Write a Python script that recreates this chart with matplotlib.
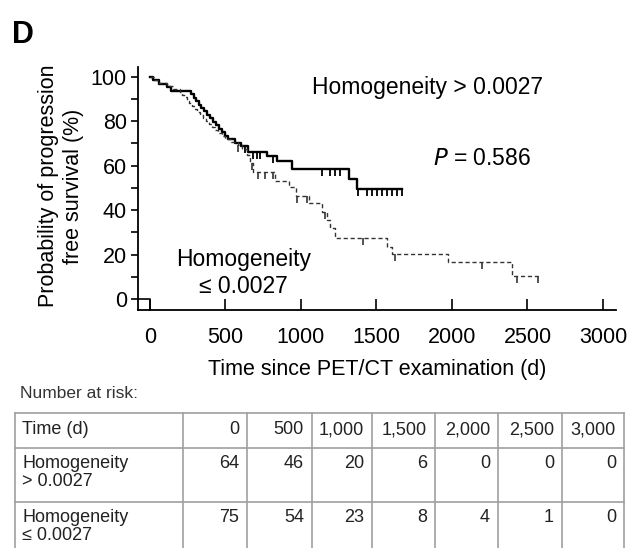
import numpy as np
import matplotlib
matplotlib.use("Agg")
import matplotlib.pyplot as plt
from matplotlib.ticker import MultipleLocator

plt.rcParams["font.family"] = ["Liberation Sans", "DejaVu Sans"]

# Kaplan-Meier steps (time in days, survival in %)
hi_times = [0, 20, 60, 110, 140, 270, 290, 305, 325, 340, 360, 380, 400, 420,
            440, 460, 480, 500, 515, 560, 600, 650, 775, 840, 940, 1320, 1370]
hi_surv = [100, 98.4, 96.9, 95.3, 93.8, 92.2, 90.6, 89.0, 87.5, 85.9, 84.4,
           82.8, 81.3, 79.7, 78.1, 76.6, 75.0, 73.4, 71.9, 70.3, 68.8, 66.3,
           64.3, 62.0, 58.3, 54.0, 49.5]
hi_censor = [630, 682, 706, 728, 815, 938, 1137, 1192, 1225, 1258, 1378, 1435,
             1468, 1501, 1535, 1568, 1601, 1634, 1667]

lo_times = [0, 25, 60, 110, 150, 200, 215, 230, 245, 260, 280, 295, 310, 330,
            350, 370, 390, 410, 430, 450, 475, 500, 540, 580, 610, 640, 665,
            685, 830, 920, 970, 1050, 1140, 1170, 1195, 1225, 1570, 1605,
            1975, 2400]
lo_surv = [100, 98.7, 97.3, 96.0, 94.7, 93.3, 92.0, 90.7, 89.3, 88.0, 86.7,
           85.3, 84.0, 82.7, 81.3, 80.0, 78.7, 77.3, 76.0, 74.7, 73.3, 72.0,
           70.7, 69.3, 67.5, 64.8, 61.0, 57.0, 53.0, 50.5, 46.5, 43.0, 39.0,
           35.5, 32.0, 27.3, 23.5, 20.2, 16.5, 10.5]
lo_censor = [583, 673, 717, 762, 817, 971, 1038, 1159, 1413, 1623, 2196, 2428,
             2572]

# number at risk table
risk_times = ["0", "500", "1,000", "1,500", "2,000", "2,500", "3,000"]
risk_groups = ["Homogeneity\n> 0.0027", "Homogeneity\n\u2264 0.0027"]
risk_hi = [64, 46, 20, 6, 0, 0, 0]
risk_lo = [75, 54, 23, 8, 4, 1, 0]


def surv_at(times, surv, t):
    idx = np.searchsorted(times, t, side="right") - 1
    return np.array(surv)[idx]


fig = plt.figure(figsize=(6.39, 5.48), dpi=100)
fig.patch.set_facecolor("white")

# overlay in pixel coordinates for panel letter and risk table
ov = fig.add_axes([0, 0, 1, 1])
ov.set_xlim(0, 639)
ov.set_ylim(548, 0)
ov.axis("off")

ax = fig.add_axes([138 / 639, 1 - 310 / 548, 478 / 639, 243 / 548])
ax.set_xlim(-79, 3086)
ax.set_ylim(-4.95, 104.4)

# curves
hi_t = list(hi_times) + [hi_censor[-1]]
hi_s = list(hi_surv) + [hi_surv[-1]]
ax.step(hi_t, hi_s, where="post", color="black", lw=1.7)
ax.plot(hi_censor, surv_at(hi_times, hi_surv, hi_censor), ls="none",
        marker=3, ms=5, mew=1.3, color="black")

lo_t = list(lo_times) + [lo_censor[-1]]
lo_s = list(lo_surv) + [lo_surv[-1]]
ax.step(lo_t, lo_s, where="post", color="#333333", lw=1.0,
        linestyle=(0, (3, 2)))
ax.plot(lo_censor, surv_at(lo_times, lo_surv, lo_censor), ls="none",
        marker=3, ms=5, mew=1.2, color="#333333")

# axes styling
for s in ["top", "right"]:
    ax.spines[s].set_visible(False)
for s in ["left", "bottom"]:
    ax.spines[s].set_linewidth(1.3)
ax.set_xticks(np.arange(0, 3001, 500))
ax.set_yticks(np.arange(0, 101, 20))
ax.yaxis.set_minor_locator(MultipleLocator(10))
ax.tick_params(axis="x", direction="in", length=8, width=1.2, pad=12,
               labelsize=15.5)
ax.tick_params(axis="y", which="major", direction="out", length=5, width=1.2,
               pad=3, labelsize=15.5)
ax.tick_params(axis="y", which="minor", direction="out", length=5, width=1.2)
ax.plot([-79, 0, 0], [0, 0, -4.95], color="black", lw=1.2, clip_on=False)

ax.set_xlabel("Time since PET/CT examination (d)", fontsize=15.5, labelpad=8)
ax.set_ylabel("Probability of progression\nfree survival (%)", fontsize=15.5,
              linespacing=1.25)
ax.yaxis.set_label_coords(-0.114, 0.51)

ax.text(1073, 95, "Homogeneity > 0.0027", fontsize=16.5, ha="left",
        va="center")
ax.text(1874, 63.4, "$P$ = 0.586", fontsize=16.5, ha="left", va="center")
ax.text(622, 11.8, "Homogeneity\n\u2264 0.0027", fontsize=16.5, ha="center",
        va="center", linespacing=1.2)

# panel letter and table
ov.text(12, 35, "D", fontsize=22, fontweight="bold", ha="left", va="center")
ov.text(20, 394, "Number at risk:", fontsize=12.5, color="#333333",
        ha="left", va="center")

col_edges = [15, 183, 247, 312, 372, 435, 498, 562, 624]
row_edges = [413, 448, 502, 556]
grid_col = "#a0a0a0"
for y in row_edges:
    ov.plot([col_edges[0], col_edges[-1]], [y, y], color=grid_col, lw=1.2)
for x in col_edges:
    ov.plot([x, x], [row_edges[0], row_edges[-1]], color=grid_col, lw=1.2)

txt_col = "#222222"
fs_tab = 13
ov.text(col_edges[0] + 7, 430, "Time (d)", fontsize=fs_tab, color=txt_col,
        ha="left", va="center")
for i, lab in enumerate(risk_times):
    ov.text(col_edges[i + 2] - 8, 430, lab, fontsize=fs_tab, color=txt_col,
            ha="right", va="center")

for r, (grp, vals) in enumerate(zip(risk_groups, [risk_hi, risk_lo])):
    top = row_edges[r + 1]
    ov.text(col_edges[0] + 7, top + 7, grp, fontsize=fs_tab, color=txt_col,
            ha="left", va="top", linespacing=1.1)
    for i, v in enumerate(vals):
        ov.text(col_edges[i + 2] - 8, top + 7, str(v), fontsize=fs_tab,
                color=txt_col, ha="right", va="top")

fig.savefig("out.png", dpi=100, facecolor="white")
